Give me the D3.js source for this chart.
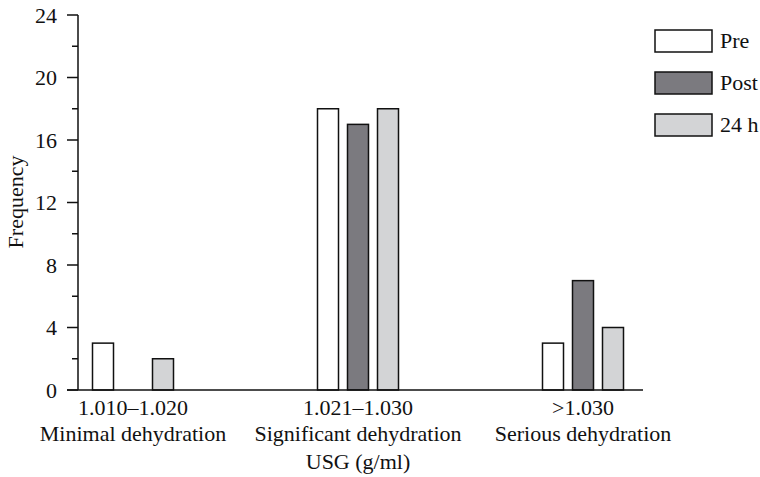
<!DOCTYPE html>
<html>
<head>
<meta charset="utf-8">
<script src="https://cdn.jsdelivr.net/npm/d3@7"></script>
<style>
  body { margin: 0; background: #fff; }
  text { font-family: "Liberation Serif", "DejaVu Serif", serif; fill: #111; font-size: 22px; }
</style>
</head>
<body>
<svg id="chart" width="760" height="477"></svg>
<script>
const groups = ["1.010\u20131.020", "1.021\u20131.030", ">1.030"]
const groupNotes = ["Minimal dehydration", "Significant dehydration", "Serious dehydration"]
const series = ["Pre", "Post", "24 h"]
const pre = [3, 18, 3]
const post = [0, 17, 7]
const after24 = [2, 18, 4]
const yTicks = [0, 4, 8, 12, 16, 20, 24]
const yMinor = [2, 6, 10, 14, 18, 22]

const colors = { "Pre": "#ffffff", "Post": "#7b7a7f", "24 h": "#d3d4d6" }
const values = { "Pre": pre, "Post": post, "24 h": after24 }

const svg = d3.select("#chart")

const x = d3.scalePoint().domain(groups).range([133, 583])
const xInner = d3.scaleBand().domain(series).range([-45, 45])
  .paddingInner(0.3).paddingOuter(0.15)
const y = d3.scaleLinear().domain([0, 24]).range([390, 15])

// y axis: labels from d3, ticks drawn as one path
const yAxis = svg.append("g").attr("transform", "translate(78,0)")
yAxis.call(d3.axisLeft(y).tickValues(yTicks).tickSize(0).tickPadding(21))
yAxis.select(".domain").remove()
yAxis.selectAll(".tick text").attr("font-size", null).attr("font-family", null)
  .attr("fill", "#111").attr("dy", "0.34em")

const tickPath = d3.path()
tickPath.moveTo(78, y(24))
tickPath.lineTo(78, y(0))
yTicks.forEach(d => { tickPath.moveTo(67, y(d)); tickPath.lineTo(78, y(d)) })
yMinor.forEach(d => { tickPath.moveTo(72, y(d)); tickPath.lineTo(78, y(d)) })
svg.append("path")
  .attr("d", tickPath.toString())
  .attr("fill", "none")
  .attr("stroke", "#111")
  .attr("stroke-width", 1.5)

// bars
const g = svg.append("g")
series.forEach(s => {
  g.selectAll(null).data(groups).enter().append("rect")
    .attr("x", d => x(d) + xInner(s))
    .attr("width", xInner.bandwidth())
    .attr("y", (d, i) => y(values[s][i]))
    .attr("height", (d, i) => y(0) - y(values[s][i]))
    .attr("fill", colors[s])
    .attr("stroke", "#111")
    .attr("stroke-width", 1.5)
    .style("display", (d, i) => values[s][i] > 0 ? null : "none")
})

// x axis line
svg.append("line")
  .attr("x1", 67).attr("x2", 643)
  .attr("y1", y(0)).attr("y2", y(0))
  .attr("stroke", "#111").attr("stroke-width", 1.4)

// x labels
svg.selectAll("text.grp").data(groups).enter().append("text")
  .attr("class", "grp")
  .attr("x", d => x(d)).attr("y", 415)
  .attr("text-anchor", "middle")
  .text(d => d)
svg.selectAll("text.note").data(groupNotes).enter().append("text")
  .attr("class", "note")
  .attr("x", (d, i) => x(groups[i])).attr("y", 441)
  .attr("text-anchor", "middle")
  .text(d => d)

svg.append("text")
  .attr("x", 358).attr("y", 469)
  .attr("text-anchor", "middle")
  .text("USG (g/ml)")

svg.append("text")
  .attr("transform", "translate(23,202) rotate(-90)")
  .attr("text-anchor", "middle")
  .text("Frequency")

// legend
const legend = svg.append("g").attr("transform", "translate(655,30)")
const item = legend.selectAll("g").data(series).enter().append("g")
  .attr("transform", (d, i) => `translate(0,${i * 42})`)
item.append("rect")
  .attr("width", 57).attr("height", 22)
  .attr("fill", d => colors[d])
  .attr("stroke", "#111").attr("stroke-width", 1.5)
item.append("text")
  .attr("x", 65).attr("y", 18)
  .text(d => d)
</script>
</body>
</html>
